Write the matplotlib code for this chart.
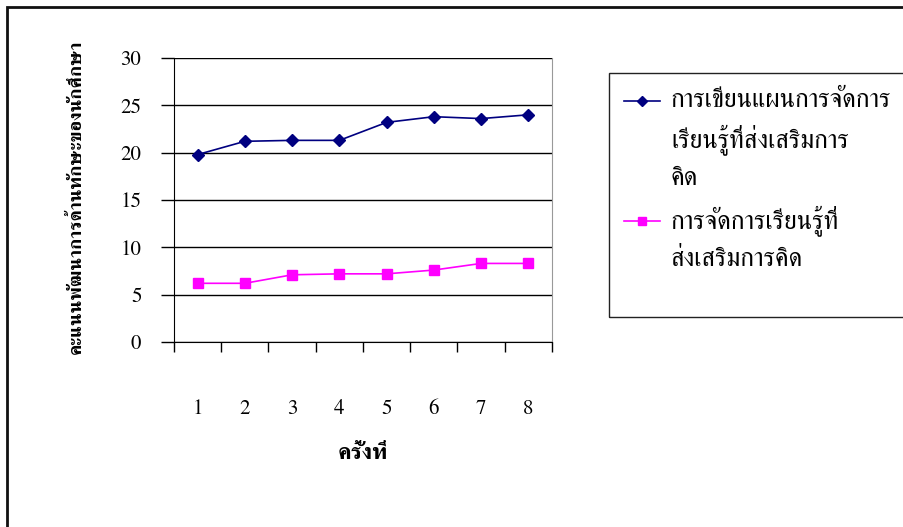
import matplotlib
matplotlib.use('Agg')
from matplotlib import pyplot as plt
from matplotlib.patches import Rectangle
from matplotlib.lines import Line2D

plt.rcParams['font.family'] = ['FreeSerif', 'DejaVu Sans']

rounds = [1, 2, 3, 4, 5, 6, 7, 8]
plan_scores = [19.8, 21.2, 21.3, 21.3, 23.2, 23.8, 23.6, 24.0]
learn_scores = [6.2, 6.2, 7.1, 7.2, 7.2, 7.6, 8.3, 8.3]
plan_label = ['การเขียนแผนการจัดการ', 'เรียนรู้ที่ส่งเสริมการ', 'คิด']
learn_label = ['การจัดการเรียนรู้ที่', 'ส่งเสริมการคิด']
y_ticks = [0, 5, 10, 15, 20, 25, 30]

W, H = 904, 527
fig = plt.figure(figsize=(W / 100, H / 100), dpi=100)
fig.patch.set_facecolor('white')

def fx(px):
    return px / W

def fy(py):
    return 1 - py / H

ax = fig.add_axes([fx(174), fy(342), fx(552) - fx(174), fy(58) - fy(342)])
ax.plot(rounds, plan_scores, color='#000080', marker='D', markersize=6.5, linewidth=1.2)
ax.plot(rounds, learn_scores, color='#FF00FF', marker='s', markersize=6.5, linewidth=1.2)

ax.set_xlim(0.5, 8.5)
ax.set_ylim(0, 30)
ax.set_yticks(y_ticks)
ax.set_xticks(rounds)
ax.set_xticks([r + 0.5 for r in [0] + rounds], minor=True)
ax.grid(axis='y', color='black', linewidth=1)
ax.set_axisbelow(True)

ax.tick_params(axis='y', direction='out', length=9.5, width=1, pad=14, labelsize=15)
ax.tick_params(axis='x', which='major', length=0, pad=41, labelsize=15)
ax.tick_params(axis='x', which='minor', direction='out', length=7.5, width=1)

ax.spines['top'].set_visible(False)
ax.spines['right'].set_color('#999999')
ax.spines['left'].set_color('black')
ax.spines['bottom'].set_color('black')

ax.set_xlabel('ครั้งที่', fontsize=16.5, fontweight='bold')
ax.xaxis.set_label_coords(0.5, -0.355)
fig.text(fx(76), fy(197), 'คะแนนพัฒนาการด้านทักษะของนักศึกษา', rotation=90,
         ha='center', va='center', fontsize=13.7, fontweight='bold')

# outer chart border (crop of a larger frame)
fig.patches.append(Rectangle((fx(7), -0.2), 1.2, fy(7) + 0.2, transform=fig.transFigure,
                             fill=False, edgecolor='#111111', linewidth=2))

# legend box
fig.patches.append(Rectangle((fx(609), fy(317)), 1.0, fy(73) - fy(317), transform=fig.transFigure,
                             fill=False, edgecolor='#222222', linewidth=1))

def legend_entry(y0, color, marker, lines):
    fig.lines.append(Line2D([fx(624), fx(660)], [fy(y0), fy(y0)], transform=fig.transFigure,
                            color=color, linewidth=1.2))
    fig.lines.append(Line2D([fx(642)], [fy(y0)], transform=fig.transFigure, color=color,
                            marker=marker, markersize=5.5))
    for i, t in enumerate(lines):
        fig.text(fx(671), fy(y0 + i * 39), t, ha='left', va='center', fontsize=18.5)

legend_entry(101, '#000080', 'D', plan_label)
legend_entry(221, '#FF00FF', 's', learn_label)

fig.savefig('out.png', dpi=100)
